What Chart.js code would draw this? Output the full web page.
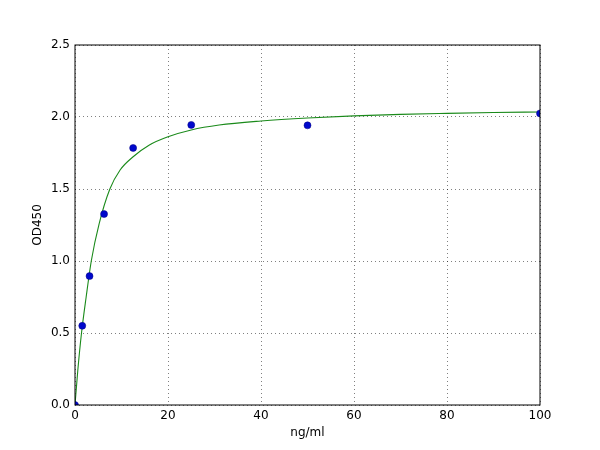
<!DOCTYPE html>
<html>
<head>
<meta charset="utf-8">
<script src="https://cdn.jsdelivr.net/npm/chart.js@4/dist/chart.umd.min.js"></script>
<style>
  html, body { margin: 0; padding: 0; background: #fff; }
  #wrap { width: 600px; height: 450px; }
</style>
</head>
<body>
<div id="wrap"><canvas id="chart" width="600" height="450"></canvas></div>
<script>
// standard points (concentration, OD)
const concentrations = [0, 1.56, 3.125, 6.25, 12.5, 25, 50, 100];
const odValues = [0, 0.55, 0.895, 1.326, 1.785, 1.945, 1.942, 2.025];

// fitted curve
const curveX = [0, 0.6, 1.4, 2.4, 3.5, 5.2, 7.5, 9.7, 12.5, 16, 20, 25, 31, 40, 50, 60, 70, 80, 90, 100];
const curveY = [0, 0.24, 0.5, 0.75, 1.0, 1.26, 1.5, 1.632, 1.724, 1.806, 1.863, 1.91, 1.944, 1.972, 1.993, 2.008, 2.018, 2.025, 2.031, 2.035];

const xTicks = [0, 20, 40, 60, 80, 100];
const yTicks = [0, 0.5, 1.0, 1.5, 2.0, 2.5];

const font = { family: 'DejaVu Sans', size: 12 };

// plot frame, like matplotlib's axes box
const framePlugin = {
  id: 'frame',
  afterDatasetsDraw(chart) {
    const { ctx, chartArea: a } = chart;
    ctx.save();
    ctx.strokeStyle = '#000';
    ctx.lineWidth = 1;
    ctx.strokeRect(a.left, a.top, a.right - a.left, a.bottom - a.top);
    ctx.restore();
  }
};

new Chart(document.getElementById('chart'), {
  type: 'scatter',
  data: {
    datasets: [
      {
        data: curveX.map((x, i) => ({ x: x, y: curveY[i] })),
        showLine: true,
        borderColor: '#1a8a1a',
        borderWidth: 1.1,
        pointRadius: 0,
        cubicInterpolationMode: 'monotone',
        clip: 0,
        order: 2
      },
      {
        data: concentrations.map((x, i) => ({ x: x, y: odValues[i] })),
        backgroundColor: '#0008cc',
        borderColor: '#000080',
        borderWidth: 0.5,
        pointRadius: 3.5,
        clip: 0,
        order: 1
      }
    ]
  },
  options: {
    responsive: false,
    animation: false,
    layout: { padding: { left: 0, right: 60, top: 45, bottom: 0 } },
    plugins: { legend: { display: false }, tooltip: { enabled: false } },
    scales: {
      x: {
        type: 'linear',
        min: 0,
        max: 100,
        afterBuildTicks: s => { s.ticks = xTicks.map(v => ({ value: v })); },
        afterFit: s => { s.height = 45; },
        ticks: { font: font, color: '#000', padding: 4, maxRotation: 0 },
        grid: { color: '#000', lineWidth: 0.5, drawTicks: false },
        border: { display: false, dash: [1, 3] },
        title: { display: true, text: 'ng/ml', font: font, color: '#000', padding: { bottom: 10 } }
      },
      y: {
        type: 'linear',
        min: 0,
        max: 2.5,
        afterBuildTicks: s => { s.ticks = yTicks.map(v => ({ value: v })); },
        afterFit: s => { s.width = 75; },
        ticks: { font: font, color: '#000', padding: 5, callback: v => v.toFixed(1) },
        grid: { color: '#000', lineWidth: 0.5, drawTicks: false },
        border: { display: false, dash: [1, 3] },
        title: { display: true, text: 'OD450', font: font, color: '#000', padding: { top: 31 } }
      }
    }
  },
  plugins: [framePlugin]
});
</script>
</body>
</html>
